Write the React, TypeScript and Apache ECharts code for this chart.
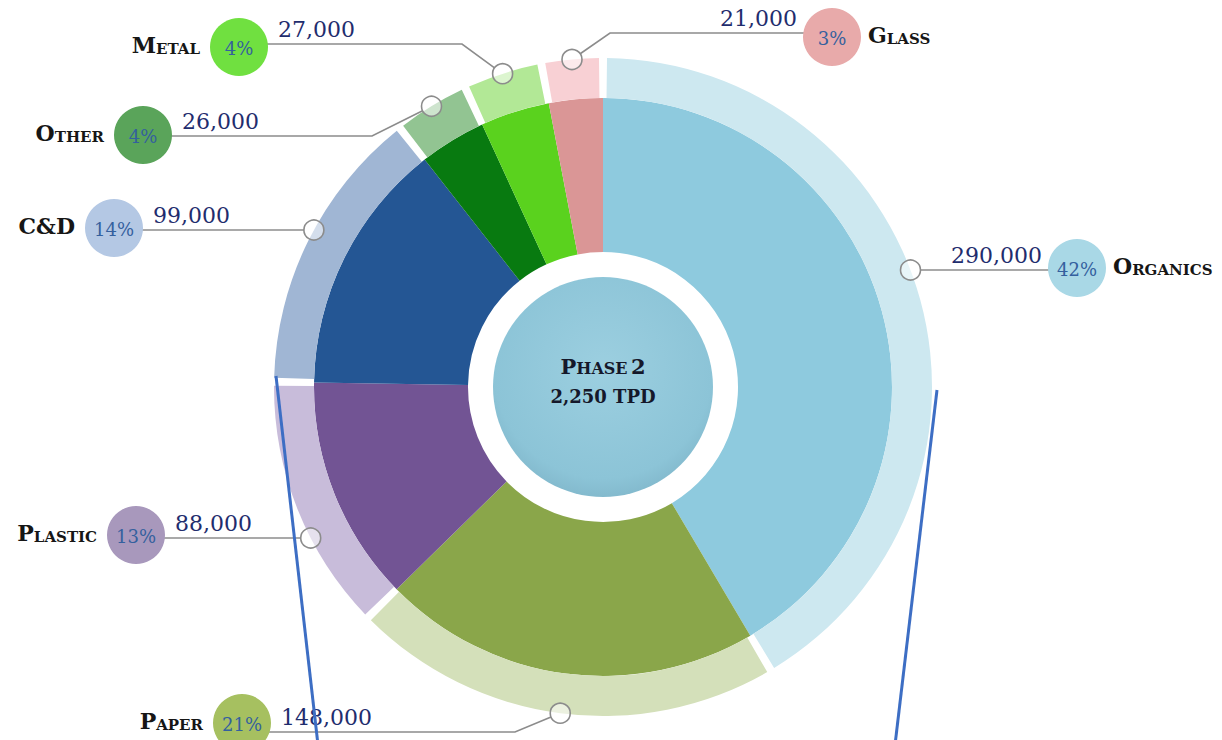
import React, { useEffect, useRef } from 'react';
import * as echarts from 'echarts';

// ---------- data ----------
const categories = ['Organics', 'Paper', 'Plastic', 'C&D', 'Other', 'Metal', 'Glass'];
const tonnages = [290000, 148000, 88000, 99000, 26000, 27000, 21000];
const percents = [42, 21, 13, 14, 4, 4, 3];
const centerTitle = 'Phase 2';
const centerValue = '2,250 TPD';

// ---------- styles ----------
const innerColors = ['#8ecade', '#8aa64a', '#725494', '#245694', '#087a10', '#5ad21e', '#da9696'];
const outerColors = ['#cde8f0', '#d4e0ba', '#c8bcda', '#a0b6d4', '#92c492', '#b2e896', '#f8d0d4'];
const badgeColors = ['#a9d8e6', '#a6c060', '#a898bc', '#b4c8e4', '#5aa45a', '#70e040', '#e8aaaa'];

const CX = 603;
const CY = 387;
const R_HOLE = 135;
const R_PIE = 289;
const R_RING = 329;
const CENTER_R = 110;

type LabelLayout = { bx: number; by: number; br: number; lineY: number; side: 'left' | 'right'; elbowX?: number };
const labelLayouts: LabelLayout[] = [
  { bx: 1077, by: 268, br: 29, lineY: 270, side: 'right' },
  { bx: 242, by: 723, br: 29, lineY: 732, side: 'left', elbowX: 515 },
  { bx: 136, by: 535, br: 29, lineY: 538, side: 'left' },
  { bx: 114, by: 228, br: 29, lineY: 230, side: 'left' },
  { bx: 143, by: 135, br: 29, lineY: 136, side: 'left', elbowX: 372 },
  { bx: 239, by: 47, br: 29, lineY: 44, side: 'left', elbowX: 462 },
  { bx: 832, by: 37, br: 29, lineY: 33, side: 'right', elbowX: 610 },
];

const SERIF = '"DejaVu Serif", serif';
const fmt = (v: number) => v.toLocaleString('en-US');

function smallCaps(name: string) {
  if (name === name.toUpperCase()) return `{a|${name}}`;
  return `{a|${name[0].toUpperCase()}}{b|${name.slice(1).toUpperCase()}}`;
}

function buildGraphics() {
  const total = tonnages.reduce((a, b) => a + b, 0);
  const els: any[] = [];
  let cum = 0;
  tonnages.forEach((v, i) => {
    const L = labelLayouts[i];
    const theta = ((cum + v / 2) / total) * Math.PI * 2;
    cum += v;
    let ax: number, ay: number;
    const pts: number[][] = [];
    if (L.elbowX === undefined) {
      const dy = L.lineY - CY;
      const half = Math.sqrt(R_RING * R_RING - dy * dy);
      ax = Math.sin(theta) < 0 ? CX - half : CX + half;
      ay = L.lineY;
    } else {
      ax = CX + R_RING * Math.sin(theta);
      ay = CY - R_RING * Math.cos(theta);
    }
    const next = L.elbowX === undefined ? [L.bx, L.lineY] : [L.elbowX, L.lineY];
    const dx0 = next[0] - ax;
    const dy0 = next[1] - ay;
    const len = Math.sqrt(dx0 * dx0 + dy0 * dy0);
    pts.push([ax + (dx0 / len) * 10, ay + (dy0 / len) * 10]);
    if (L.elbowX !== undefined) pts.push([L.elbowX, L.lineY]);
    pts.push([L.bx, L.lineY]);

    els.push({
      type: 'polyline',
      z: 10,
      silent: true,
      shape: { points: pts },
      style: { stroke: '#8c8c8c', lineWidth: 1.6, fill: null },
    });
    els.push({
      type: 'circle',
      z: 11,
      silent: true,
      shape: { cx: ax, cy: ay, r: 10 },
      style: { fill: 'rgba(255,255,255,0.55)', stroke: '#8c8c8c', lineWidth: 1.6 },
    });
    els.push({
      type: 'circle',
      z: 12,
      silent: true,
      shape: { cx: L.bx, cy: L.by, r: L.br },
      style: { fill: badgeColors[i] },
    });
    els.push({
      type: 'text',
      z: 13,
      silent: true,
      style: {
        text: `${percents[i]}%`,
        x: L.bx,
        y: L.by + 1,
        align: 'center',
        verticalAlign: 'middle',
        font: `18px ${SERIF}`,
        fill: '#34609e',
      },
    });
    const left = L.side === 'left';
    els.push({
      type: 'text',
      z: 13,
      silent: true,
      style: {
        text: fmt(v),
        x: left ? L.bx + L.br + 10 : L.bx - L.br - 6,
        y: L.lineY - 15,
        align: left ? 'left' : 'right',
        verticalAlign: 'middle',
        font: `22px ${SERIF}`,
        fill: '#1f2d6e',
      },
    });
    els.push({
      type: 'text',
      z: 13,
      silent: true,
      style: {
        text: smallCaps(categories[i]),
        x: left ? L.bx - L.br - 10 : L.bx + L.br + 7,
        y: L.by - 2,
        align: left ? 'right' : 'left',
        verticalAlign: 'middle',
        rich: {
          a: { fontSize: 22, fontWeight: 'bold', fontFamily: SERIF, fill: '#161616', verticalAlign: 'bottom' },
          b: { fontSize: 15, fontWeight: 'bold', fontFamily: SERIF, fill: '#161616', verticalAlign: 'bottom' },
        },
      },
    });
  });

  // centre disc
  els.push({
    type: 'circle',
    z: 5,
    silent: true,
    shape: { cx: CX, cy: CY, r: CENTER_R },
    style: {
      fill: new echarts.graphic.RadialGradient(0.5, 0.42, 0.62, [
        { offset: 0, color: '#9ccfe0' },
        { offset: 0.8, color: '#8cc4d7' },
        { offset: 1, color: '#7fb5c9' },
      ]),
    },
  });
  const t = centerTitle.toUpperCase();
  els.push({
    type: 'text',
    z: 6,
    silent: true,
    style: {
      text: `{a|${t[0]}}{b|${t.slice(1, 5)}} {a|${t.slice(6)}}`,
      x: CX,
      y: CY - 21,
      align: 'center',
      verticalAlign: 'middle',
      rich: {
        a: { fontSize: 21, fontWeight: 'bold', fontFamily: SERIF, fill: '#15182a', verticalAlign: 'bottom' },
        b: { fontSize: 16, fontWeight: 'bold', fontFamily: SERIF, fill: '#15182a', verticalAlign: 'bottom' },
      },
    },
  });
  els.push({
    type: 'text',
    z: 6,
    silent: true,
    style: {
      text: centerValue,
      x: CX,
      y: CY + 9,
      align: 'center',
      verticalAlign: 'middle',
      font: `bold 18px ${SERIF}`,
      fill: '#15182a',
    },
  });

  // blue guide lines
  els.push({
    type: 'line',
    z: 20,
    silent: true,
    shape: { x1: 276, y1: 376, x2: 318, y2: 745 },
    style: { stroke: '#3d6ec4', lineWidth: 3 },
  });
  els.push({
    type: 'line',
    z: 20,
    silent: true,
    shape: { x1: 937, y1: 390, x2: 895, y2: 745 },
    style: { stroke: '#3d6ec4', lineWidth: 3 },
  });
  return els;
}

export default function App() {
  const ref = useRef<HTMLDivElement>(null);
  useEffect(() => {
    if (!ref.current) return;
    const chart = echarts.init(ref.current, undefined, { renderer: 'svg' });
    chart.setOption({
      animation: false,
      backgroundColor: '#ffffff',
      series: [
        {
          type: 'pie',
          silent: true,
          center: [CX, CY],
          radius: [R_HOLE, R_PIE],
          startAngle: 90,
          clockwise: true,
          label: { show: false },
          labelLine: { show: false },
          data: categories.map((c, i) => ({ name: c, value: tonnages[i], itemStyle: { color: innerColors[i] } })),
        },
        {
          type: 'pie',
          silent: true,
          center: [CX, CY],
          radius: [R_PIE, R_RING],
          startAngle: 90,
          clockwise: true,
          padAngle: 1.4,
          label: { show: false },
          labelLine: { show: false },
          data: categories.map((c, i) => ({ name: c, value: tonnages[i], itemStyle: { color: outerColors[i] } })),
        },
      ],
      graphic: { elements: buildGraphics() },
    });
    return () => chart.dispose();
  }, []);
  return <div ref={ref} style={{ position: 'absolute', left: 0, top: 0, width: 1222, height: 740 }} />;
}
